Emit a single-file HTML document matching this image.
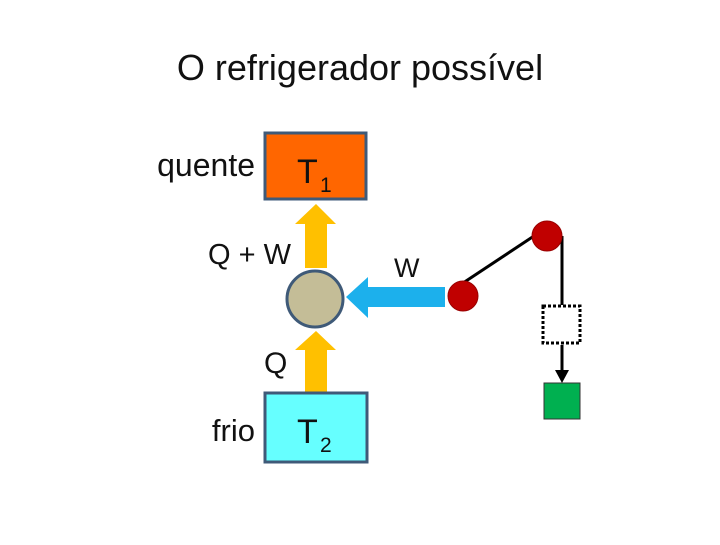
<!DOCTYPE html>
<html><head><style>body{margin:0;background:#fff}</style></head><body>
<svg width="720" height="540" xmlns="http://www.w3.org/2000/svg" font-family="Liberation Sans, sans-serif" fill="#111">
<text x="360" y="80" font-size="36" text-anchor="middle">O refrigerador possível</text>
<text x="255" y="176" font-size="32" text-anchor="end">quente</text>
<rect x="265" y="133" width="101" height="66" fill="#ff6600" stroke="#3f5a78" stroke-width="3"/>
<text x="297" y="183" font-size="34" fill="#111">T</text><text x="320" y="192" font-size="21" fill="#111">1</text>
<polygon points="305,268 305,224 295,224 316,204 336,224 327,224 327,268" fill="#ffc000"/>
<text x="208" y="264" font-size="29">Q + W</text>
<circle cx="315" cy="299" r="28" fill="#c4bd97" stroke="#3f5a78" stroke-width="3"/>
<polygon points="305,392 305,350 295,350 316,331 336,350 327,350 327,392" fill="#ffc000"/>
<text x="264" y="373" font-size="30">Q</text>
<text x="255" y="441" font-size="31" text-anchor="end">frio</text>
<rect x="265" y="393" width="102" height="69" fill="#66ffff" stroke="#3f5a78" stroke-width="3"/>
<text x="297" y="443" font-size="34" fill="#111">T</text><text x="320" y="452" font-size="21" fill="#111">2</text>
<polygon points="445,287 368,287 368,277 346,297 368,318 368,307 445,307" fill="#1cb0ec"/>
<text x="394" y="277" font-size="27">W</text>
<line x1="463" y1="283" x2="540" y2="232" stroke="#000" stroke-width="3"/>
<line x1="562" y1="236" x2="562" y2="305" stroke="#000" stroke-width="3"/>
<circle cx="463" cy="296" r="15" fill="#c00000" stroke="#900" stroke-width="1"/>
<circle cx="547" cy="236" r="15" fill="#c00000" stroke="#900" stroke-width="1"/>
<rect x="543" y="306" width="37" height="37" fill="#fff" stroke="#000" stroke-width="3" stroke-dasharray="3,2"/>
<line x1="562" y1="345" x2="562" y2="372" stroke="#000" stroke-width="3"/>
<polygon points="555,370 569,370 562,383" fill="#000"/>
<rect x="544" y="383" width="36" height="36" fill="#00b050" stroke="#333" stroke-width="1"/>
</svg>
</body></html>
